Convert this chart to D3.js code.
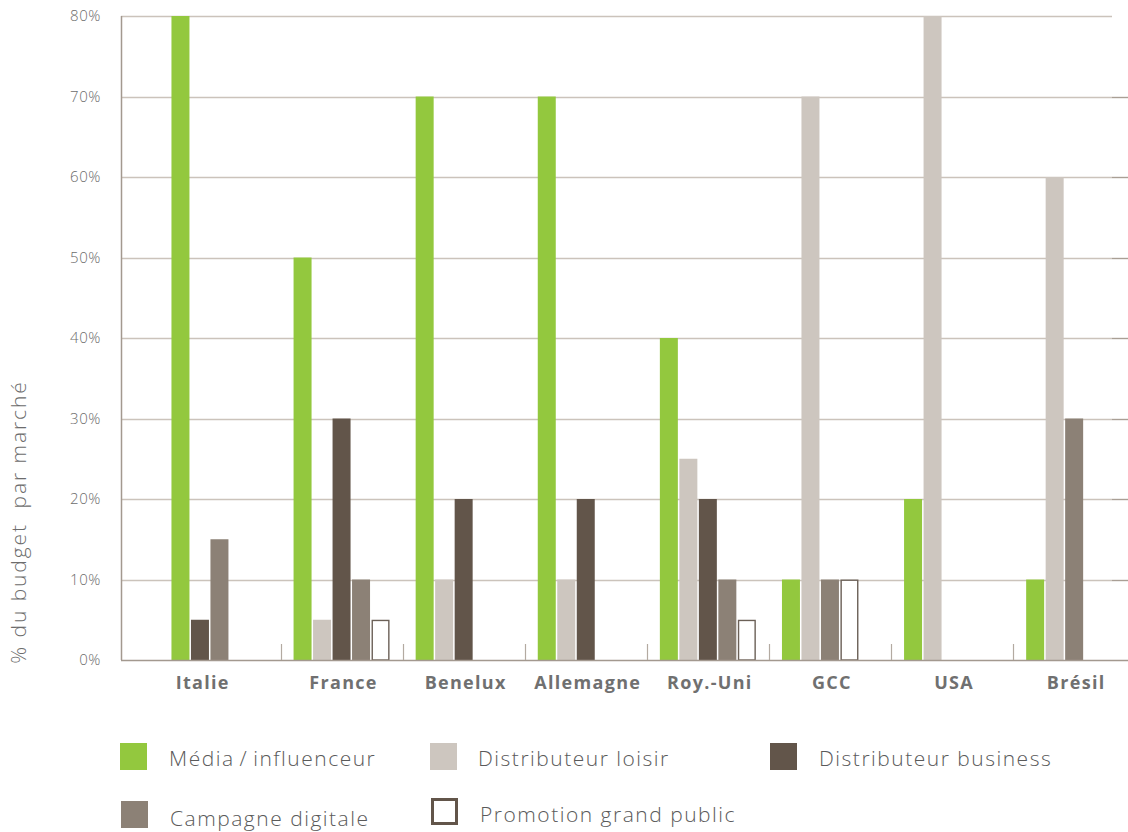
<!DOCTYPE html>
<html lang="fr">
<head>
<meta charset="utf-8">
<script src="https://cdn.jsdelivr.net/npm/d3@7"></script>
<style>
  html, body { margin: 0; padding: 0; background: #ffffff; }
  svg { display: block; }
  text { font-family: "Open Sans", "Noto Sans", sans-serif; }
</style>
</head>
<body>
<svg id="chart" width="1128" height="832"></svg>
<script>
// Marchés (catégories de l'axe horizontal)
const markets = ["Italie", "France", "Benelux", "Allemagne", "Roy.-Uni", "GCC", "USA", "Brésil"];

// Part du budget par marché, en %, pour chaque canal
const mediaInfluenceur     = [80, 50, 70, 70, 40, 10, 20, 10];
const distributeurLoisir   = [0, 5, 10, 10, 25, 70, 80, 60];
const distributeurBusiness = [5, 30, 20, 20, 20, 0, 0, 0];
const campagneDigitale     = [15, 10, 0, 0, 10, 10, 0, 30];
const promotionGrandPublic = [0, 5, 0, 0, 5, 10, 0, 0];

// Graduations de l'axe vertical
const yTicks = [0, 10, 20, 30, 40, 50, 60, 70, 80];

const series = [
  { name: "Média\u2009/\u2009influenceur", values: mediaInfluenceur,     fill: "#93c83e", stroke: null },
  { name: "Distributeur loisir",          values: distributeurLoisir,   fill: "#cdc6bf", stroke: null },
  { name: "Distributeur business",        values: distributeurBusiness, fill: "#62554a", stroke: null },
  { name: "Campagne digitale",            values: campagneDigitale,     fill: "#8c8176", stroke: null },
  { name: "Promotion grand public",       values: promotionGrandPublic, fill: "#ffffff", stroke: "#6b6057" }
];

const svg = d3.select("#chart");

const axisLeftX = 121;
const gridRight = 1112;

const x = d3.scaleBand()
  .domain(markets)
  .range([158.4, 1135.2])
  .padding(0);

const y = d3.scaleLinear()
  .domain([0, 80])
  .range([660, 16]);

// Emplacements des barres dans chaque marché (les canaux à 0 % sont omis)
const slot = d3.scaleBand()
  .domain(d3.range(series.length))
  .range([0, x.bandwidth()])
  .paddingInner(0.077)
  .paddingOuter(0.67);

// Lignes de grille horizontales
const grid = svg.append("g");
grid.selectAll("line")
  .data(yTicks.filter(t => t > 0))
  .join("line")
  .attr("x1", axisLeftX)
  .attr("x2", gridRight)
  .attr("y1", d => Math.round(y(d)) + 0.5)
  .attr("y2", d => Math.round(y(d)) + 0.5)
  .attr("stroke", "#cbc3bb")
  .attr("stroke-width", 1.4);

// Petits traits à droite de la grille
grid.selectAll("line.r")
  .data(yTicks.filter(t => t > 0 && t < 80))
  .join("line")
  .attr("class", "r")
  .attr("x1", gridRight)
  .attr("x2", 1128)
  .attr("y1", d => Math.round(y(d)) + 0.5)
  .attr("y2", d => Math.round(y(d)) + 0.5)
  .attr("stroke", "#a99f95")
  .attr("stroke-width", 1.4);

// Libellés de l'axe vertical
svg.append("g")
  .selectAll("text")
  .data(yTicks)
  .join("text")
  .attr("x", 101)
  .attr("y", d => y(d) + 5)
  .attr("text-anchor", "end")
  .attr("font-size", 15)
  .attr("font-weight", 300)
  .attr("letter-spacing", 0.6)
  .attr("fill", "#6c6c6c")
  .text(d => d + "%");

// Titre de l'axe vertical
svg.append("text")
  .attr("transform", "translate(26,522) rotate(-90)")
  .attr("text-anchor", "middle")
  .attr("font-size", 21)
  .attr("font-weight", 300)
  .attr("letter-spacing", 1.9)
  .attr("fill", "#6c6c6c")
  .style("white-space", "pre")
  .text("% du budget  par marché");

// Barres
const groups = svg.append("g")
  .selectAll("g")
  .data(markets.map((m, i) => ({
    market: m,
    bars: series
      .map(s => ({ s, v: s.values[i] }))
      .filter(b => b.v > 0)
  })))
  .join("g")
  .attr("transform", d => `translate(${x(d.market)},0)`);

groups.selectAll("rect")
  .data(d => d.bars.map((b, k) => ({ ...b, k })))
  .join("rect")
  .attr("x", d => slot(d.k) + (d.s.stroke ? 0.7 : 0))
  .attr("y", d => y(d.v) + (d.s.stroke ? 0.7 : 0))
  .attr("width", d => slot.bandwidth() - (d.s.stroke ? 1.4 : 0))
  .attr("height", d => y(0) - y(d.v) - (d.s.stroke ? 0.7 : 0))
  .attr("fill", d => d.s.fill)
  .attr("stroke", d => d.s.stroke)
  .attr("stroke-width", d => d.s.stroke ? 1.4 : 0);

// Axe vertical et ligne de base
svg.append("line")
  .attr("x1", axisLeftX + 0.5).attr("x2", axisLeftX + 0.5)
  .attr("y1", y(80)).attr("y2", y(0))
  .attr("stroke", "#a3998f").attr("stroke-width", 1.5);

svg.append("line")
  .attr("x1", axisLeftX).attr("x2", 1128)
  .attr("y1", y(0) + 0.5).attr("y2", y(0) + 0.5)
  .attr("stroke", "#a3998f").attr("stroke-width", 1.5);

// Séparateurs entre marchés
svg.append("g")
  .selectAll("line")
  .data(markets.slice(1))
  .join("line")
  .attr("x1", d => Math.round(x(d)) + 0.5)
  .attr("x2", d => Math.round(x(d)) + 0.5)
  .attr("y1", y(0) - 16)
  .attr("y2", y(0))
  .attr("stroke", "#b3aaa1")
  .attr("stroke-width", 1.2);

// Libellés des marchés
const bounds = [axisLeftX, ...markets.slice(1).map(m => x(m)), x.range()[1]];
svg.append("g")
  .selectAll("text")
  .data(markets)
  .join("text")
  .attr("x", (d, i) => (bounds[i] + bounds[i + 1]) / 2 + 2)
  .attr("y", 689)
  .attr("text-anchor", "middle")
  .attr("font-size", 18)
  .attr("font-weight", 700)
  .attr("letter-spacing", 1.3)
  .attr("fill", "#707070")
  .text(d => d);

// Légende
const legendPos = [
  { x: 120, y: 743, tx: 169, ty: 766 },
  { x: 430, y: 743, tx: 478, ty: 766 },
  { x: 770, y: 743, tx: 819, ty: 766 },
  { x: 121, y: 801, tx: 170, ty: 826 },
  { x: 431, y: 798, tx: 480, ty: 822 }
];

const legend = svg.append("g")
  .selectAll("g")
  .data(series)
  .join("g")
  .attr("transform", (d, i) => `translate(${legendPos[i].x},${legendPos[i].y})`);

legend.append("rect")
  .attr("x", d => d.stroke ? 1.5 : 0)
  .attr("y", d => d.stroke ? 1.5 : 0)
  .attr("width", d => d.stroke ? 24 : 27)
  .attr("height", d => d.stroke ? 24 : 27)
  .attr("fill", d => d.fill)
  .attr("stroke", d => d.stroke ? "#62554a" : null)
  .attr("stroke-width", d => d.stroke ? 3 : 0);

legend.append("text")
  .attr("x", (d, i) => legendPos[i].tx - legendPos[i].x)
  .attr("y", (d, i) => legendPos[i].ty - legendPos[i].y)
  .attr("font-size", 21)
  .attr("font-weight", 300)
  .attr("letter-spacing", 1.5)
  .attr("fill", "#5a5a5a")
  .text(d => d.name);
</script>
</body>
</html>
